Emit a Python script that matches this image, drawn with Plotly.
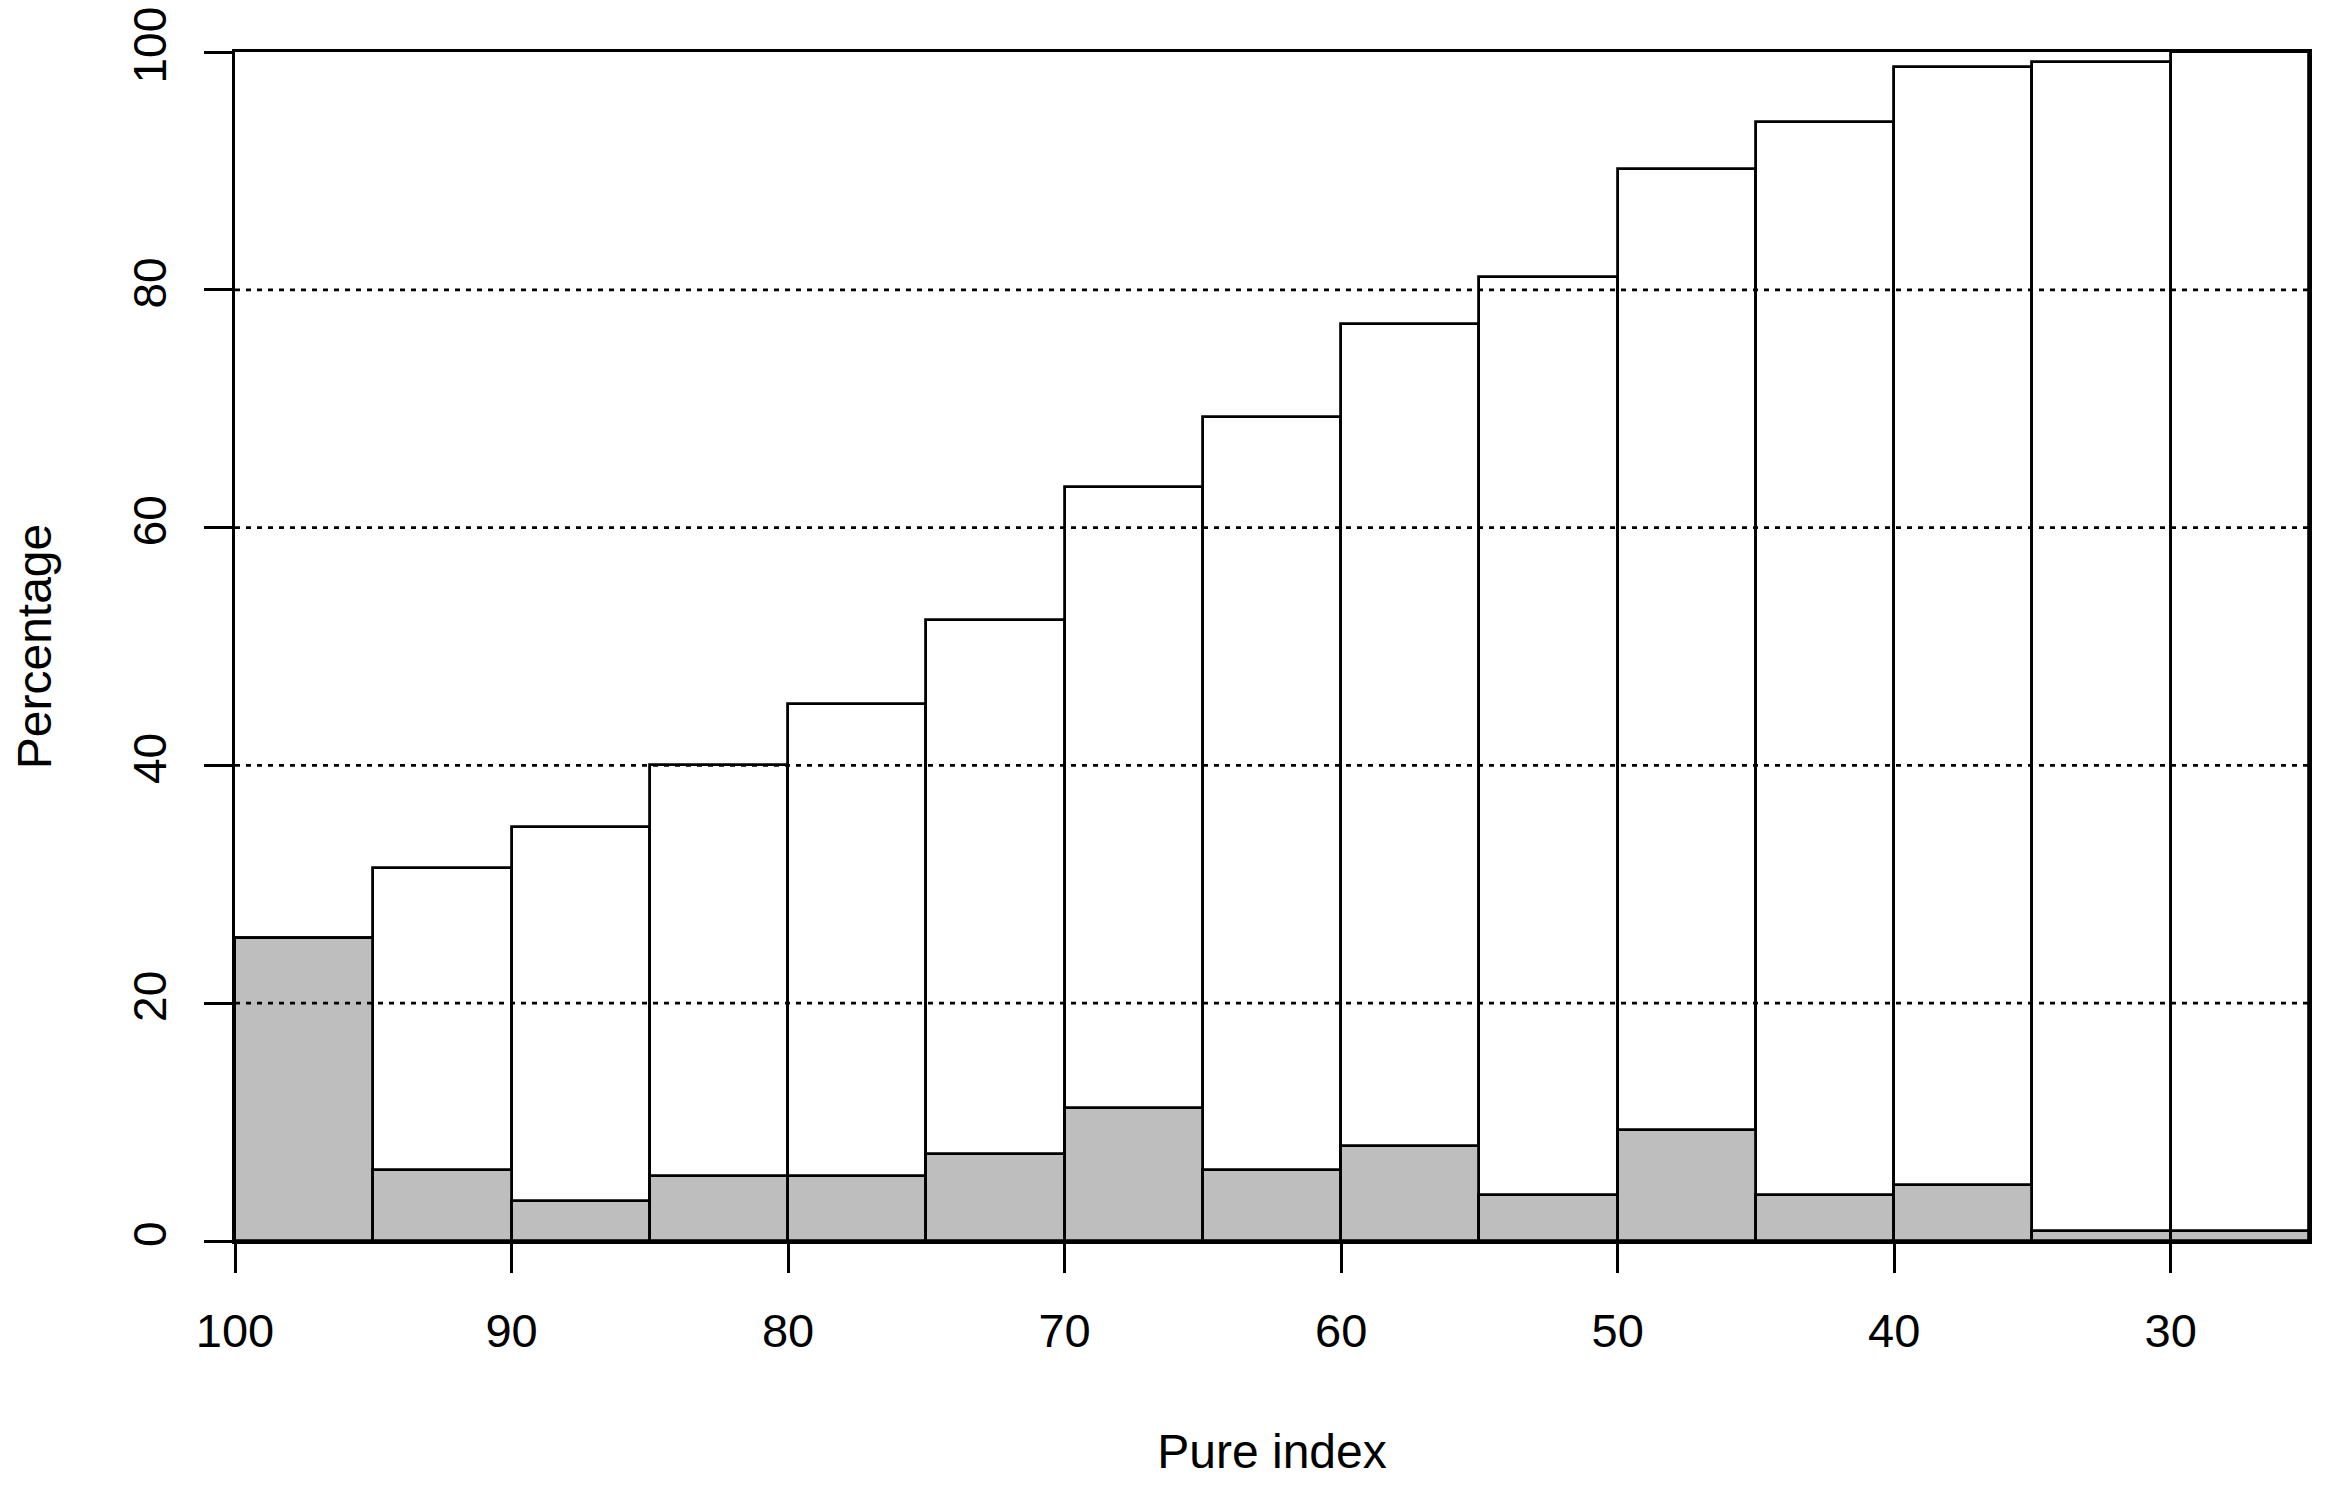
import plotly.graph_objects as go

# Bin left edges (Pure index, descending) — bins are 5 units wide
bin_starts = [100, 95, 90, 85, 80, 75, 70, 65, 60, 55, 50, 45, 40, 35, 30]
bin_width = 5
# Cumulative percentage (white bars)
cumulative = [25.5, 31.4, 34.8, 40.0, 45.2, 52.2, 63.4, 69.3, 77.1, 81.1, 90.2, 94.1, 98.7, 99.2, 100.0]
# Per-bin percentage (grey bars)
per_bin = [25.5, 6.0, 3.4, 5.5, 5.5, 7.3, 11.2, 6.0, 8.0, 3.9, 9.3, 3.9, 4.7, 0.8, 0.8]

x_ticks = [100, 90, 80, 70, 60, 50, 40, 30]
y_ticks = [0, 20, 40, 60, 80, 100]
grid_values = [20, 40, 60, 80]

centers = [s - bin_width / 2 for s in bin_starts]

FONT = "Liberation Sans, Arial, sans-serif"

fig = go.Figure()
fig.add_trace(go.Bar(
    x=centers, y=cumulative, width=[bin_width] * len(centers),
    marker=dict(color="white", line=dict(color="black", width=2.8)),
    showlegend=False,
))
fig.add_trace(go.Bar(
    x=centers, y=per_bin, width=[bin_width] * len(centers),
    marker=dict(color="#bebebe", line=dict(color="black", width=2.8)),
    showlegend=False,
))

for g in grid_values:
    fig.add_shape(type="line", xref="paper", yref="y", x0=0, x1=1, y0=g, y1=g,
                  line=dict(color="black", width=2.8, dash="5px,6px"), layer="above")

fig.update_layout(
    width=2310, height=1470,
    margin=dict(l=227, r=9, t=44, b=237, autoexpand=False),
    paper_bgcolor="white", plot_bgcolor="white",
    barmode="overlay", bargap=0,
    font=dict(family=FONT, size=46, color="black"),
    xaxis=dict(
        range=[100, 25], tickvals=x_ticks, ticktext=[str(v) for v in x_ticks],
        ticks="outside", ticklen=29, tickwidth=2.8, tickcolor="black",
        tickfont=dict(size=47),
        showline=True, linecolor="black", linewidth=3, mirror=True,
        showgrid=False, zeroline=False,
        ticklabelstandoff=18, ticklabeloverflow="allow",
        title=dict(text="Pure index", font=dict(size=48), standoff=79),
        automargin=False,
    ),
    yaxis=dict(
        range=[0, 100], tickvals=y_ticks, ticktext=[str(v) for v in y_ticks],
        ticks="outside", ticklen=28, tickwidth=2.8, tickcolor="black",
        tickangle=-90, tickfont=dict(size=46),
        showline=True, linecolor="black", linewidth=3, mirror=True,
        showgrid=False, zeroline=False,
        ticklabelstandoff=20, ticklabeloverflow="allow",
        title=dict(text="Percentage", font=dict(size=48), standoff=66),
        automargin=False,
    ),
)

fig.write_html("out.html")
